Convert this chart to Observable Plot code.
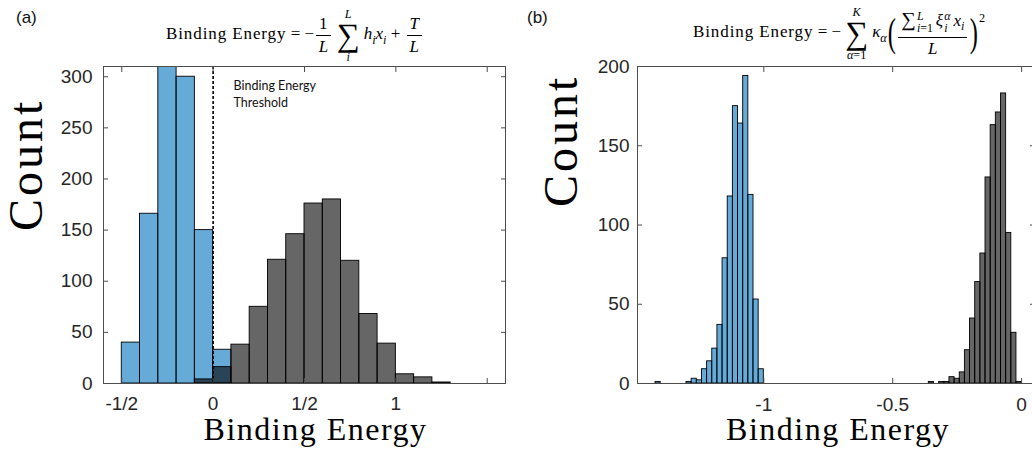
<!DOCTYPE html>
<html><head><meta charset="utf-8">
<script src="https://cdn.jsdelivr.net/npm/d3@7"></script>
<script src="https://cdn.jsdelivr.net/npm/@observablehq/plot@0.6"></script>
<style>
html,body{margin:0;padding:0;background:#fff;overflow:hidden;}
#fig{position:relative;width:1032px;height:453px;overflow:hidden;background:#fff;}
.panel{position:absolute;top:0;}
.plabel{position:absolute;top:8px;font-family:"Liberation Sans",Arial,sans-serif;font-size:17px;color:#111;}
.math{position:absolute;font-family:"Liberation Serif",serif;font-size:17px;white-space:nowrap;color:#000;line-height:1;}
.math .word{letter-spacing:0.9px;}
.frac{display:inline-flex;flex-direction:column;align-items:center;vertical-align:middle;margin:0 2px;}
.frac .num{border-bottom:0.8px solid #000;padding:0 3px 2px 3px;line-height:1.05;}
.frac .den{padding-top:2px;line-height:1.05;}
.op{display:inline-flex;flex-direction:column;align-items:center;vertical-align:middle;margin:0 4px;line-height:1;}
.op .big{font-size:1.9em;line-height:0.95;}
.op .lim{font-size:0.72em;}
.ss{display:inline-flex;flex-direction:column;font-size:0.7em;line-height:1.05;vertical-align:0.55em;margin-left:1px;margin-right:3px;}
.tsum{font-size:1.2em;}
.paren{font-size:2.4em;vertical-align:middle;display:inline-block;transform:scaleX(0.6);margin:0 -2px;line-height:1;font-weight:normal;}
sub,sup{font-size:0.72em;line-height:0;}
</style>
</head><body>
<div id="fig">
  <div class="plabel" style="left:16px;">(a)</div>
  <div class="plabel" style="left:527px;">(b)</div>
  <div class="math" id="ta" style="left:166px;top:8px;"><span class="word">Binding Energy</span> = −<span class="frac"><span class="num">1</span><span class="den"><i>L</i></span></span><span class="op"><span class="lim"><i>L</i></span><span class="big">∑</span><span class="lim"><i>i</i></span></span><i>h</i><sub><i>i</i></sub><i>x</i><sub><i>i</i></sub> + <span class="frac"><span class="num"><i>T</i></span><span class="den"><i>L</i></span></span></div>
  <div class="math" id="tb" style="left:693px;top:6px;"><span class="word">Binding Energy</span> = −<span class="op"><span class="lim"><i>K</i></span><span class="big">∑</span><span class="lim"><i>α</i>=1</span></span><i>κ</i><sub><i>α</i></sub><span class="paren">(</span><span class="frac"><span class="num"><span class="tsum">∑</span><span class="ss"><span><i>L</i></span><span><i>i</i>=1</span></span><i>ξ</i><span class="ss"><span><i>α</i></span><span><i>i</i></span></span><i>x</i><sub><i>i</i></sub></span><span class="den"><i>L</i></span></span><span class="paren">)</span><sup style="vertical-align:1.3em">2</sup></div>
</div>
<script>
// ---------- Panel (a) data ----------
const binWidthA = 0.1;
const blueStartA = [-0.5, -0.4, -0.3, -0.2, -0.1, 0.0];
const blueCountsA = [40, 166, 311, 300, 150, 33];
const grayStartA = [-0.1, 0.0, 0.1, 0.2, 0.3, 0.4, 0.5, 0.6, 0.7, 0.8, 0.9, 1.0, 1.1, 1.2, 1.3];
const grayCountsA = [4, 16, 38, 75, 121, 146, 176, 180, 120, 68, 39, 9, 6, 1, 0];
const xTicksA = [-0.5, 0, 0.5, 1, 1.5];
const xTickLabelsA = ["-1/2", "0", "1/2", "1", ""];
const yTicksA = [0, 50, 100, 150, 200, 250, 300];
const thresholdA = [0];
const annotationA = "Binding Energy\nThreshold";

// ---------- Panel (b) data ----------
const binWidthB = 0.02;
const blueStartB = [-1.42, -1.40, -1.38, -1.36, -1.34, -1.32, -1.30, -1.28, -1.26, -1.24, -1.22, -1.20, -1.18, -1.16, -1.14, -1.12, -1.10, -1.08, -1.06, -1.04, -1.02];
const blueCountsB = [1, 0, 0, 0, 0, 0, 1, 3, 2, 9, 14, 22, 37, 79, 118, 175, 164, 194, 119, 53, 9];
const grayStartB = [-0.36, -0.34, -0.32, -0.30, -0.28, -0.26, -0.24, -0.22, -0.20, -0.18, -0.16, -0.14, -0.12, -0.10, -0.08, -0.06, -0.04, -0.02];
const grayCountsB = [1, 0, 1, 1, 4, 3, 7, 21, 41, 64, 82, 130, 163, 171, 183, 95, 32, 1];
const xTicksB = [-1, -0.5, 0];
const xTickLabelsB = ["-1", "-0.5", "0"];
const yTicksB = [0, 50, 100, 150, 200];

const BLUE = "#0072BD";
const AXIS = "#4d4d4d";
const TICKTXT = "#262626";

function bins(starts, counts, w) {
  return starts.map((s, i) => ({x1: s, x2: s + w, count: counts[i]}));
}
function labeler(ticks, labels) {
  const m = new Map(ticks.map((t, i) => [t, labels[i]]));
  return d => m.get(d);
}
function histRect(data, fill) {
  return Plot.rect(data, {x1: "x1", x2: "x2", y1: 0, y2: "count", fill, fillOpacity: 0.6, stroke: "#000", strokeWidth: 0.9, clip: true});
}
function frameAxes(xt, yt) {
  const o = {tickSize: -5, stroke: AXIS, fill: "none", label: null};
  return [
    Plot.axisX(xt, {anchor: "bottom", ...o}),
    Plot.axisX(xt, {anchor: "top", ...o}),
    Plot.axisY(yt, {anchor: "left", ...o}),
    Plot.axisY(yt, {anchor: "right", ...o}),
    Plot.frame({stroke: AXIS, strokeWidth: 1})
  ];
}
const sansFont = "'Liberation Sans', Arial, Helvetica, sans-serif";
const serifFont = "'Liberation Serif', 'Times New Roman', serif";

const plotA = Plot.plot({
  width: 516, height: 453,
  marginLeft: 103, marginRight: 11, marginTop: 66, marginBottom: 70,
  x: {domain: [-0.6, 1.6]},
  y: {domain: [0, 310]},
  style: {fontFamily: sansFont, fontSize: "19px", color: TICKTXT, background: "transparent", overflow: "visible"},
  marks: [
    histRect(bins(blueStartA, blueCountsA, binWidthA), BLUE),
    histRect(bins(grayStartA, grayCountsA, binWidthA), "#000"),
    Plot.ruleX(thresholdA, {stroke: "#000", strokeWidth: 1.6, strokeDasharray: "3,2"}),
    Plot.text([annotationA], {frameAnchor: "top-left", dx: 130, dy: 12, textAnchor: "start", lineAnchor: "top", lineHeight: 1.35, fontSize: 12.5, fontFamily: "Lato, 'Open Sans', sans-serif", fill: "#111"}),
    ...frameAxes(xTicksA, yTicksA),
    Plot.axisX(xTicksA, {anchor: "bottom", tickSize: 0, tickPadding: 13, tickFormat: labeler(xTicksA, xTickLabelsA), fill: TICKTXT, label: null}),
    Plot.axisY(yTicksA, {anchor: "left", tickSize: 0, tickPadding: 11, fill: TICKTXT, label: null}),
    Plot.text(["Count"], {frameAnchor: "left", dx: -77, dy: 6, rotate: -90, fontSize: 48, fontFamily: serifFont, fill: "#000"}),
    Plot.text(["Binding Energy"], {frameAnchor: "bottom", dx: 11, dy: 56, fontSize: 32, fontFamily: serifFont, fill: "#000"})
  ]
});

const plotB = Plot.plot({
  width: 530, height: 453,
  marginLeft: 121, marginRight: 12, marginTop: 66, marginBottom: 70,
  x: {domain: [-1.49, 0.05]},
  y: {domain: [0, 200]},
  style: {fontFamily: sansFont, fontSize: "19px", color: TICKTXT, background: "transparent", overflow: "visible"},
  marks: [
    histRect(bins(blueStartB, blueCountsB, binWidthB), BLUE),
    histRect(bins(grayStartB, grayCountsB, binWidthB), "#000"),
    ...frameAxes(xTicksB, yTicksB),
    Plot.axisX(xTicksB, {anchor: "bottom", tickSize: 0, tickPadding: 14, tickFormat: labeler(xTicksB, xTickLabelsB), fill: TICKTXT, label: null}),
    Plot.axisY(yTicksB, {anchor: "left", tickSize: 0, tickPadding: 8, fill: TICKTXT, label: null}),
    Plot.text(["Count"], {frameAnchor: "left", dx: -76, dy: -18, rotate: -90, fontSize: 48, fontFamily: serifFont, fill: "#000"}),
    Plot.text(["Binding Energy"], {frameAnchor: "bottom", dx: 2, dy: 56, fontSize: 32, fontFamily: serifFont, fill: "#000"})
  ]
});

for (const [p, left] of [[plotA, 0], [plotB, 516]]) {
  p.classList.add("panel");
  p.style.left = left + "px";
  document.getElementById("fig").appendChild(p);
}
// letter spacing on the serif labels to approximate the LaTeX (Computer Modern) widths
d3.selectAll("#fig svg text").each(function () {
  const t = this.textContent;
  if (t === "Count") this.setAttribute("letter-spacing", "3");
  if (t === "Binding Energy") this.setAttribute("letter-spacing", "1.5");
});
</script>
</body></html>
